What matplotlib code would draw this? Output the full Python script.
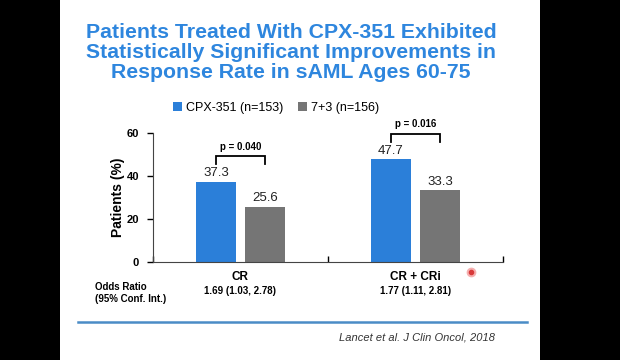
import matplotlib
matplotlib.use("Agg")
import matplotlib.pyplot as plt
from matplotlib.patches import Rectangle
import numpy as np

# --- Data ---
categories = ["CR", "CR + CRi"]
cpx_values = [37.3, 47.7]
std_values = [25.6, 33.3]
series_names = ["CPX-351 (n=153)", "7+3 (n=156)"]
p_values = ["p = 0.040", "p = 0.016"]
odds_ratios = ["1.69 (1.03, 2.78)", "1.77 (1.11, 2.81)"]
y_ticks = [0, 20, 40, 60]

title = ("Patients Treated With CPX-351 Exhibited\n"
         "Statistically Significant Improvements in\n"
         "Response Rate in sAML Ages 60-75")

BLUE = "#2b7fd9"
GRAY = "#757575"
TITLE_BLUE = "#2e86de"

plt.rcParams["font.family"] = ["Liberation Sans", "DejaVu Sans"]

fig = plt.figure(figsize=(6.2, 3.6), dpi=100, facecolor="black")

# white slide area between the black side bands
fig.add_artist(Rectangle((60 / 620, 0), 480 / 620, 1, transform=fig.transFigure,
                         facecolor="white", edgecolor="none", zorder=-5))

fig.text(291 / 620, 1 - 52.5 / 360, title, ha="center", va="center", color=TITLE_BLUE,
         fontsize=15.3, fontweight="bold", linespacing=1.1)

ax = fig.add_axes([153 / 620, 1 - 261.5 / 360, 350 / 620, 128.5 / 360])
ax.set_facecolor("none")

x = np.arange(len(categories)) + 0.5
offset = 0.14
width = 0.225
b1 = ax.bar(x - offset, cpx_values, width, color=BLUE, label=series_names[0], zorder=2)
b2 = ax.bar(x + offset, std_values, width, color=GRAY, label=series_names[1], zorder=2)

for bars, vals in ((b1, cpx_values), (b2, std_values)):
    for rect, v in zip(bars, vals):
        ax.text(rect.get_x() + rect.get_width() / 2, v + 1.2, f"{v:.1f}",
                ha="center", va="bottom", fontsize=9.5, color="#222222")

# significance brackets
for i in range(len(categories)):
    top = cpx_values[i] + 11.8
    x0, x1 = x[i] - offset, x[i] + offset
    ax.plot([x0, x0, x1, x1], [top - 3.5, top, top, top - 3.5], color="black",
            lw=1.3, clip_on=False, solid_joinstyle="miter")
    ax.text((x0 + x1) / 2, top + 2.2, p_values[i], ha="center", va="bottom",
            fontsize=7, fontweight="bold")

ax.set_xlim(0, 2)
ax.set_ylim(0, 60)
ax.set_yticks(y_ticks)
ax.set_xticks([0, 1, 2])
ax.set_xticklabels([])
ax.tick_params(axis="x", direction="in", length=4, width=1)
ax.tick_params(axis="y", direction="out", length=4, width=1, labelsize=8, pad=6)
for lab in ax.get_yticklabels():
    lab.set_fontweight("bold")
ax.spines["top"].set_visible(False)
ax.spines["right"].set_visible(False)
ax.spines["left"].set_color("#444444")
ax.spines["bottom"].set_color("#444444")
ax.set_ylabel("Patients (%)", fontsize=10, fontweight="bold", labelpad=1)

for xi, cat in zip(x, categories):
    ax.text(xi, -4.5, cat, ha="center", va="top", fontsize=8.5, fontweight="bold")

for xi, orr in zip(x, odds_ratios):
    ax.text(xi, -11.5, orr, ha="center", va="top", fontsize=7, fontweight="bold")

fig.text(95 / 620, 1 - 293 / 360, "Odds Ratio\n(95% Conf. Int.)", ha="left", va="center",
         fontsize=7, fontweight="bold", linespacing=1.35)

ax.legend(loc="center", bbox_to_anchor=(276 / 620, 1 - 108 / 360), bbox_transform=fig.transFigure,
          ncol=2, frameon=False, fontsize=9, handlelength=0.7, handleheight=0.7,
          handletextpad=0.3, columnspacing=1.2)

# laser pointer dot seen on the slide
dot_xy = ([471 / 620], [1 - 272 / 360])
fig.add_artist(plt.Line2D(*dot_xy, marker="o", markersize=6, color="#f6b0b0", lw=0))
fig.add_artist(plt.Line2D(*dot_xy, marker="o", markersize=3, color="#d83a3a", lw=0))

# divider line and citation
fig.add_artist(plt.Line2D([78 / 620, 527 / 620], [1 - 322 / 360] * 2, color="#4a8cc6", lw=1.8))
fig.text(495 / 620, 1 - 337 / 360, "Lancet et al. J Clin Oncol, 2018", ha="right", va="center",
         fontsize=8, style="italic", color="#333333")

fig.savefig("out.png", dpi=100, facecolor="black")
